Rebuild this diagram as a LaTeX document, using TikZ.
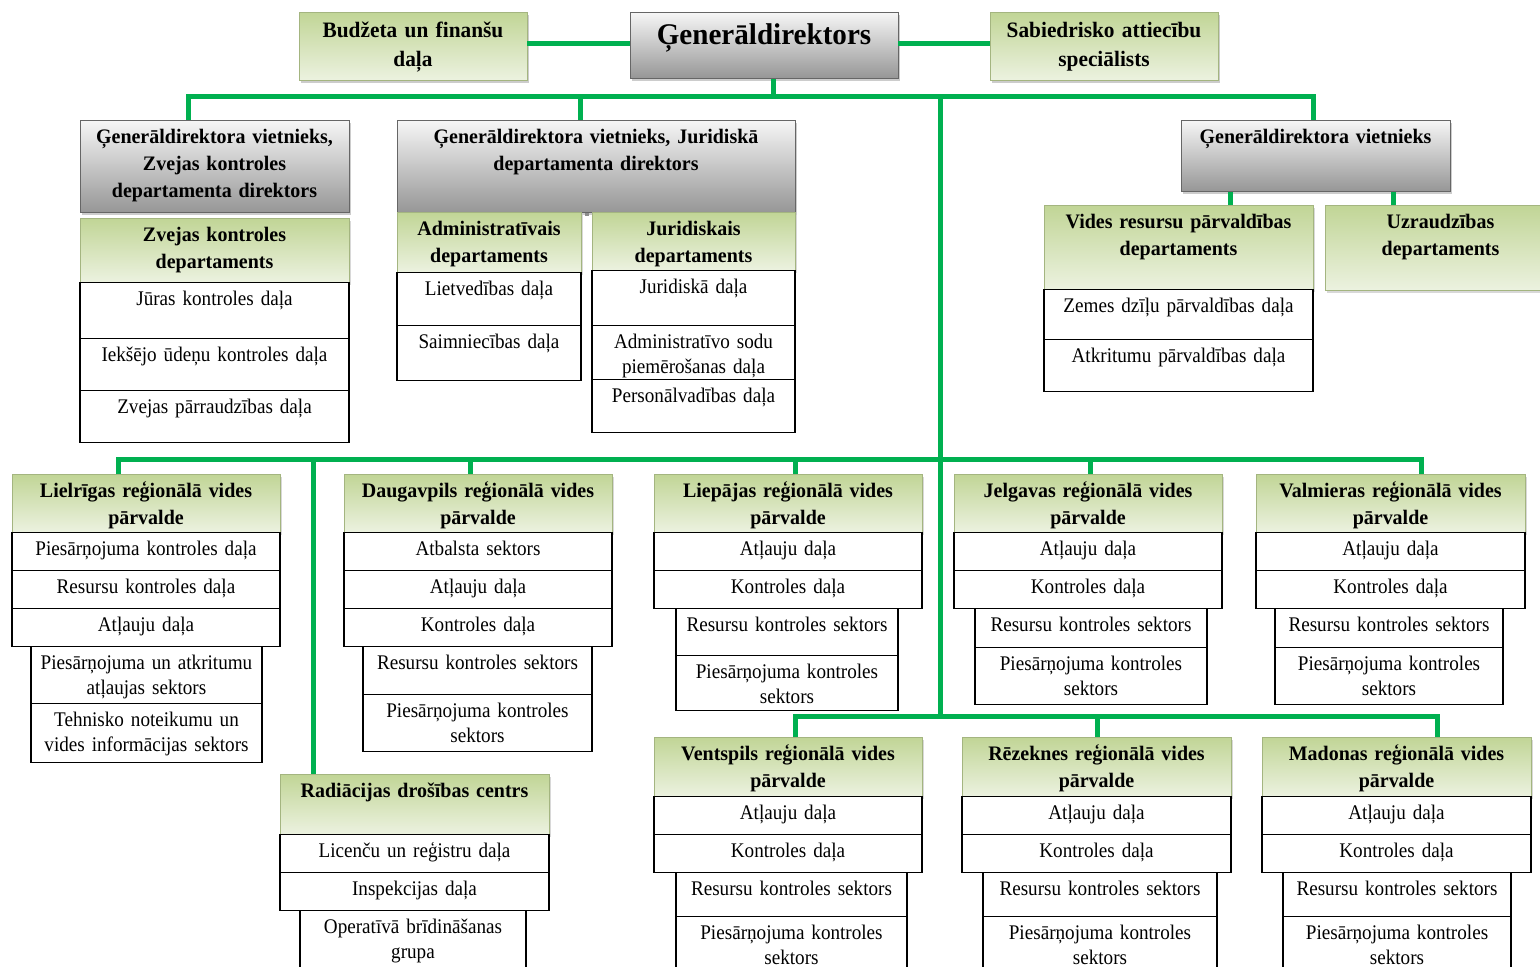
\documentclass[tikz,border=0pt]{standalone}
\usepackage{fontspec}
\setmainfont{Liberation Serif}[FakeStretch=0.97]
\newfontfamily\unitfont{Liberation Serif}[FakeStretch=0.92]
\usetikzlibrary{shadows}

\definecolor{linegreen}{RGB}{0,176,80}
\definecolor{greentop}{RGB}{193,213,150}
\definecolor{greenbot}{RGB}{236,242,224}
\definecolor{graytop}{RGB}{246,246,246}
\definecolor{graybot}{RGB}{150,150,150}

\tikzset{
	link/.style={draw=linegreen, line width=2.5pt},
	stub/.style={draw=black!45, line width=2pt},
	topbox/.style={draw=greentop!85!black, top color=greentop, bottom color=greenbot, anchor=north, inner sep=0pt, align=center, text height=12.5pt, font=\bfseries\fontsize{11}{14.5}\selectfont, drop shadow={shadow xshift=1.2pt, shadow yshift=-1.2pt, fill=black!40}},
	chief/.style={draw=black!60, top color=graytop, bottom color=graybot, anchor=north, inner sep=0pt, align=center, text height=11.5pt, font=\bfseries\fontsize{10.3}{13.5}\selectfont, drop shadow={shadow xshift=1.2pt, shadow yshift=-1.2pt, fill=black!40}},
	dept/.style={draw=greentop!85!black, top color=greentop, bottom color=greenbot, anchor=north, inner sep=0pt, align=center, text height=11.5pt, font=\bfseries\fontsize{10.3}{13.5}\selectfont, drop shadow={shadow xshift=1.2pt, shadow yshift=-1.2pt, fill=black!30}},
	unit/.style={draw=black, fill=white, line width=0.6pt, anchor=north, inner sep=0pt, align=center, text height=11.5pt, font=\unitfont\fontsize{10.4}{12.5}\selectfont}
}

\begin{document}
\begin{tikzpicture}[x=0.5pt, y=-0.5pt]
	\useasboundingbox (0,0) rectangle (1540,967);
	\clip (0,0) rectangle (1540,967);
	
	% top row
	\node[topbox, text width=114pt, text depth=21.5pt] (budz) at (413,12) {Budžeta un finanšu\\daļa};
	\node[chief, text width=134pt, text height=16pt, text depth=17pt, font=\bfseries\fontsize{15}{18}\selectfont] (gen) at (764,12) {Ģenerāldirektors};
	\node[topbox, text width=114pt, text depth=21.5pt] (sab) at (1104,12) {Sabiedrisko attiecību\\speciālists};
	
	% deputies
	\node[chief, text width=134.5pt, text depth=34.5pt] (zvd) at (214.5,120) {Ģenerāldirektora vietnieks,\\Zvejas kontroles\\departamenta direktors};
	\node[dept, text width=134.5pt, text depth=20.5pt] (zvk) at (214.5,218) {Zvejas kontroles\\departaments};
	\node[unit, text width=134.5pt, text depth=16.5pt] (zvk1) at (214.5,282) {Jūras kontroles daļa};
	\node[unit, text width=134.5pt, text depth=14.5pt] (zvk2) at (214.5,338) {Iekšējo ūdeņu kontroles daļa};
	\node[unit, text width=134.5pt, text depth=14.5pt] (zvk3) at (214.5,390) {Zvejas pārraudzības daļa};
	
	\node[chief, text width=199pt, text depth=34.5pt] (jdd) at (596,120) {Ģenerāldirektora vietnieks, Juridiskā\\departamenta direktors};
	\node[dept, text width=92pt, text depth=18.5pt] (adm) at (489,212) {Administratīvais\\departaments};
	\node[dept, text width=101.5pt, text depth=17.5pt] (jur) at (693.5,212) {Juridiskais\\departaments};
	\node[unit, text width=92pt, text depth=15pt] (adm1) at (489,272) {Lietvedības daļa};
	\node[unit, text width=92pt, text depth=16pt] (adm2) at (489,325) {Saimniecības daļa};
	\node[unit, text width=101.5pt, text depth=16pt] (jur1) at (693.5,270) {Juridiskā daļa};
	\node[unit, text width=101.5pt, text depth=15.5pt] (jur2) at (693.5,325) {Administratīvo sodu\\piemērošanas daļa};
	\node[unit, text width=101.5pt, text depth=15pt] (jur3) at (693.5,379) {Personālvadības daļa};
	
	\node[chief, text width=134.5pt, text depth=24pt] (gvr) at (1315.5,120) {Ģenerāldirektora vietnieks};
	\node[dept, text width=134.5pt, text depth=30.5pt] (vrd) at (1178.5,205) {Vides resursu pārvaldības\\departaments};
	\node[dept, text width=115.5pt, text depth=31pt] (uzd) at (1440.5,205) {Uzraudzības\\departaments};
	\node[unit, text width=134.5pt, text depth=13.5pt] (vrd1) at (1178.5,289) {Zemes dzīļu pārvaldības daļa};
	\node[unit, text width=134.5pt, text depth=14.5pt] (vrd2) at (1178.5,339) {Atkritumu pārvaldības daļa};
	
	% regional boards, first row
	\node[dept, text width=134pt, text depth=17.5pt] (lie) at (146,474) {Lielrīgas reģionālā vides\\pārvalde};
	\node[unit, text width=134pt, text depth=7.5pt] (lie1) at (146,532) {Piesārņojuma kontroles daļa};
	\node[unit, text width=134pt, text depth=7.5pt] (lie2) at (146,570) {Resursu kontroles daļa};
	\node[unit, text width=134pt, text depth=7.5pt] (lie3) at (146,608) {Atļauju daļa};
	\node[unit, text width=115.5pt, text depth=17pt] (lie4) at (146.5,646) {Piesārņojuma un atkritumu\\atļaujas sektors};
	\node[unit, text width=115.5pt, text depth=18pt] (lie5) at (146.5,703) {Tehnisko noteikumu un\\vides informācijas sektors};
	
	\node[dept, text width=134pt, text depth=17.5pt] (dau) at (478,474) {Daugavpils reģionālā vides\\pārvalde};
	\node[unit, text width=134pt, text depth=7.5pt] (dau1) at (478,532) {Atbalsta sektors};
	\node[unit, text width=134pt, text depth=7.5pt] (dau2) at (478,570) {Atļauju daļa};
	\node[unit, text width=134pt, text depth=7.5pt] (dau3) at (478,608) {Kontroles daļa};
	\node[unit, text width=114.5pt, text depth=12.5pt] (dau4) at (477.5,646) {Resursu kontroles sektors};
	\node[unit, text width=114.5pt, text depth=17pt] (dau5) at (477.5,694) {Piesārņojuma kontroles\\sektors};
	
	\node[dept, text width=134pt, text depth=17.5pt] (lip) at (788,474) {Liepājas reģionālā vides\\pārvalde};
	\node[unit, text width=134pt, text depth=7.5pt] (lip1) at (788,532) {Atļauju daļa};
	\node[unit, text width=134pt, text depth=7.5pt] (lip2) at (788,570) {Kontroles daļa};
	\node[unit, text width=111pt, text depth=12pt] (lip3) at (787,608) {Resursu kontroles sektors};
	\node[unit, text width=111pt, text depth=16pt] (lip4) at (787,655) {Piesārņojuma kontroles\\sektors};
	
	\node[dept, text width=134pt, text depth=17.5pt] (jel) at (1088,474) {Jelgavas reģionālā vides\\pārvalde};
	\node[unit, text width=134pt, text depth=7.5pt] (jel1) at (1088,532) {Atļauju daļa};
	\node[unit, text width=134pt, text depth=7.5pt] (jel2) at (1088,570) {Kontroles daļa};
	\node[unit, text width=116pt, text depth=8pt] (jel3) at (1091,608) {Resursu kontroles sektors};
	\node[unit, text width=116pt, text depth=17pt] (jel4) at (1091,647) {Piesārņojuma kontroles\\sektors};
	
	\node[dept, text width=134.5pt, text depth=17.5pt] (val) at (1390.5,474) {Valmieras reģionālā vides\\pārvalde};
	\node[unit, text width=134.5pt, text depth=7.5pt] (val1) at (1390.5,532) {Atļauju daļa};
	\node[unit, text width=134.5pt, text depth=7.5pt] (val2) at (1390.5,570) {Kontroles daļa};
	\node[unit, text width=114pt, text depth=8pt] (val3) at (1389,608) {Resursu kontroles sektors};
	\node[unit, text width=114pt, text depth=17pt] (val4) at (1389,647) {Piesārņojuma kontroles\\sektors};
	
	% regional boards, second row
	\node[dept, text width=134pt, text depth=18pt] (ven) at (788,737) {Ventspils reģionālā vides\\pārvalde};
	\node[unit, text width=134pt, text depth=7.5pt] (ven1) at (788,796) {Atļauju daļa};
	\node[unit, text width=134pt, text depth=7.5pt] (ven2) at (788,834) {Kontroles daļa};
	\node[unit, text width=115.5pt, text depth=10.5pt] (ven3) at (791.5,872) {Resursu kontroles sektors};
	\node[unit, text width=115.5pt, text depth=20.5pt] (ven4) at (791.5,916) {Piesārņojuma kontroles\\sektors};
	
	\node[dept, text width=134.5pt, text depth=18pt] (rez) at (1096.5,737) {Rēzeknes reģionālā vides\\pārvalde};
	\node[unit, text width=134.5pt, text depth=7.5pt] (rez1) at (1096.5,796) {Atļauju daļa};
	\node[unit, text width=134.5pt, text depth=7.5pt] (rez2) at (1096.5,834) {Kontroles daļa};
	\node[unit, text width=117pt, text depth=10.5pt] (rez3) at (1100,872) {Resursu kontroles sektors};
	\node[unit, text width=117pt, text depth=20.5pt] (rez4) at (1100,916) {Piesārņojuma kontroles\\sektors};
	
	\node[dept, text width=134.5pt, text depth=18pt] (mad) at (1396.5,737) {Madonas reģionālā vides\\pārvalde};
	\node[unit, text width=134.5pt, text depth=7.5pt] (mad1) at (1396.5,796) {Atļauju daļa};
	\node[unit, text width=134.5pt, text depth=7.5pt] (mad2) at (1396.5,834) {Kontroles daļa};
	\node[unit, text width=114pt, text depth=10.5pt] (mad3) at (1397,872) {Resursu kontroles sektors};
	\node[unit, text width=114pt, text depth=20.5pt] (mad4) at (1397,916) {Piesārņojuma kontroles\\sektors};
	
	\node[dept, text width=134.5pt, text depth=18.5pt] (rad) at (414.5,774) {Radiācijas drošības centrs};
	\node[unit, text width=134.5pt, text depth=7.5pt] (rad1) at (414.5,834) {Licenču un reģistru daļa};
	\node[unit, text width=134.5pt, text depth=7.5pt] (rad2) at (414.5,872) {Inspekcijas daļa};
	\node[unit, text width=113pt, text depth=23.5pt] (rad3) at (413,910) {Operatīvā brīdināšanas\\grupa};
	
	% bus points
	\coordinate (c0) at (773,97);
	\coordinate (c1) at (188,97);
	\coordinate (c2) at (1313,97);
	\coordinate (c3) at (580,97);
	\coordinate (c4) at (940,97);
	\coordinate (c5) at (940,716);
	\coordinate (c6) at (1230,198);
	\coordinate (c7) at (1393,198);
	\coordinate (gap) at (587,216);
	\coordinate (m1) at (118,460);
	\coordinate (m2) at (1421,460);
	\coordinate (m3) at (313,460);
	\coordinate (m4) at (470,460);
	\coordinate (m5) at (795,460);
	\coordinate (m6) at (1090,460);
	\coordinate (n1) at (795,716);
	\coordinate (n2) at (1437,716);
	\coordinate (n3) at (1097,716);
	
	\draw[link] ([yshift=1.5pt]budz.east) -- ([yshift=1.5pt]budz.east -| gen.west);
	\draw[link] ([yshift=1pt]gen.east) -- ([yshift=1pt]gen.east -| sab.west);
	\draw[link] (gen.south -| c0) -- (c0);
	\draw[link] (zvd.north -| c1) -- (c1) -- (c2) -- (gvr.north -| c2);
	\draw[link] (c3) -- (jdd.north -| c3);
	\draw[link] (c4) -- (c5);
	\draw[stub] (jdd.south -| gap) -- (gap);
	
	\draw[link] (gvr.south -| c6) -- (vrd.north -| c6);
	\draw[link] (gvr.south -| c7) -- (uzd.north -| c7);
	
	\draw[link] (lie.north -| m1) -- (m1) -- (m2) -- (val.north -| m2);
	\draw[link] (m3) -- (rad.north -| m3);
	\draw[link] (m4) -- (dau.north -| m4);
	\draw[link] (m5) -- (lip.north -| m5);
	\draw[link] (m6) -- (jel.north -| m6);
	
	\draw[link] (ven.north -| n1) -- (n1) -- (n2) -- (mad.north -| n2);
	\draw[link] (n3) -- (rez.north -| n3);
\end{tikzpicture}
\end{document}
